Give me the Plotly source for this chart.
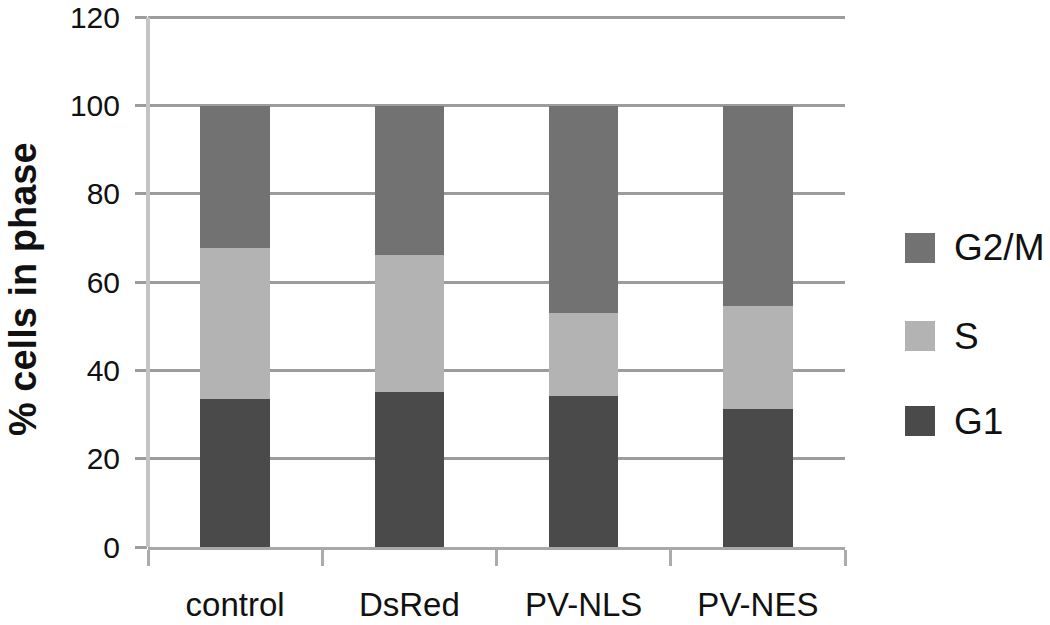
import plotly.graph_objects as go

categories = ["control", "DsRed", "PV-NLS", "PV-NES"]
g1 = [33.6, 35.1, 34.3, 31.2]
s_phase = [34.2, 31.0, 18.8, 23.4]
g2m = [32.2, 33.9, 46.9, 45.4]

series_names = ["G1", "S", "G2/M"]
series_values = [g1, s_phase, g2m]
series_colors = ["#4a4a4a", "#b3b3b3", "#727272"]

W, H = 1050, 625
L, R, T, B = 148, 205, 13, 78
FONT = "Liberation Sans, Arial, sans-serif"

fig = go.Figure()
for name, vals, col in zip(series_names, series_values, series_colors):
    fig.add_trace(go.Bar(x=categories, y=vals, name=name, marker=dict(color=col, line=dict(width=0)),
                         showlegend=False))

def px_x(px):
    return (px - L) / (W - L - R)

def px_y(py):
    return (H - B - py) / (H - T - B)

# manual legend (large swatches), top to bottom: G2/M, S, G1
legend_rows = list(zip(series_names, series_colors))[::-1]
row_centers = [248, 336, 421]
shapes = []
annotations = []
for (name, col), cy in zip(legend_rows, row_centers):
    shapes.append(dict(type="rect", xref="paper", yref="paper",
                       x0=px_x(905), x1=px_x(935), y0=px_y(cy + 15), y1=px_y(cy - 15),
                       fillcolor=col, line=dict(width=0)))
    annotations.append(dict(text=name, xref="paper", yref="paper", x=px_x(952), y=px_y(cy),
                            xanchor="left", yanchor="middle", showarrow=False,
                            font=dict(family=FONT, size=37, color="#111")))

# y-axis title as rotated annotation
annotations.append(dict(text="<b>% cells in phase</b>", xref="paper", yref="paper",
                        x=px_x(23), y=px_y(289), xanchor="center", yanchor="middle",
                        textangle=-90, showarrow=False, borderpad=0,
                        font=dict(family=FONT, size=38, color="#111")))

fig.update_layout(
    width=W, height=H,
    margin=dict(l=L, r=R, t=T, b=B),
    paper_bgcolor="white", plot_bgcolor="white",
    barmode="stack", bargap=0.6,
    shapes=shapes, annotations=annotations,
    font=dict(family=FONT, color="#111"),
)
fig.update_yaxes(
    range=[0, 121], tickvals=[0, 20, 40, 60, 80, 100, 120],
    showgrid=True, gridcolor="#9c9c9c", gridwidth=2.5,
    zeroline=False,
    showline=False,
    ticks="outside", ticklen=12, tickcolor="#9c9c9c", tickwidth=2.5,
    ticklabelstandoff=9, ticklabeloverflow="allow",
    tickfont=dict(family=FONT, size=30, color="#111"),
    automargin=False,
)
fig.update_xaxes(
    showgrid=False, zeroline=False,
    showline=True, linecolor="#a8a8a8", linewidth=2.5,
    ticks="outside", tickson="boundaries", ticklen=16, tickcolor="#ababab", tickwidth=3,
    ticklabelstandoff=27, ticklabeloverflow="allow",
    tickfont=dict(family=FONT, size=33, color="#111"),
    automargin=False,
)
# light vertical y-axis line spanning 0..120
fig.add_shape(type="line", xref="paper", yref="y", x0=0, x1=0, y0=0, y1=120,
              line=dict(color="#c4c4c4", width=4), layer="above")

fig.write_html("out.html", config={"displayModeBar": False},
               post_script="document.body.style.margin='0';document.body.style.overflow='hidden';")
